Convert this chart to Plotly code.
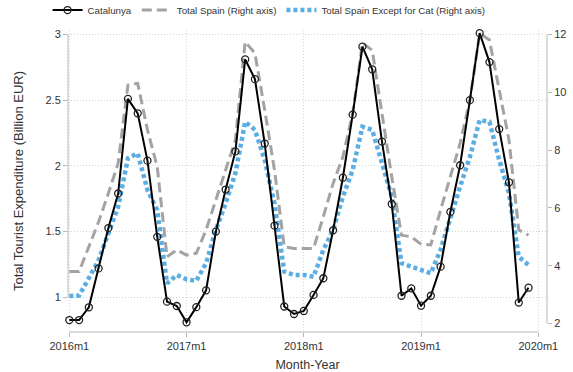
import plotly.graph_objects as go

# ---- data ----
month_labels = [f"{y}m{m}" for y in range(2016, 2020) for m in range(1, 13)]
tick_labels = ["2016m1", "2017m1", "2018m1", "2019m1", "2020m1"]

catalunya = [0.827, 0.827, 0.924, 1.22, 1.527, 1.79, 2.51, 2.40, 2.04, 1.46, 0.967, 0.934,
             0.81, 0.925, 1.053, 1.50, 1.82, 2.11, 2.81, 2.66, 2.17, 1.545, 0.93, 0.873,
             0.896, 1.018, 1.145, 1.51, 1.91, 2.39, 2.907, 2.735, 2.185, 1.71, 1.012, 1.068,
             0.936, 1.012, 1.233, 1.65, 2.005, 2.50, 3.01, 2.79, 2.28, 1.875, 0.96, 1.073]

total_spain = [3.80, 3.80, 4.66, 5.52, 6.51, 7.55, 10.25, 10.31, 8.70, 7.42, 4.31, 4.55,
               4.37, 4.43, 5.24, 6.28, 7.31, 8.35, 11.75, 11.35, 9.39, 7.31, 4.66, 4.60,
               4.60, 4.60, 5.70, 6.85, 7.77, 9.27, 11.70, 11.46, 9.27, 7.08, 5.06, 5.00,
               4.75, 4.72, 5.93, 7.08, 8.24, 9.73, 12.04, 11.81, 10.08, 8.35, 5.24, 5.06]

spain_ex_cat = [2.955, 2.97, 3.57, 4.20, 5.12, 6.04, 7.72, 7.89, 6.62, 5.93, 3.39, 3.68,
                3.53, 3.48, 4.09, 5.24, 6.16, 7.20, 8.98, 8.70, 7.66, 6.16, 3.80, 3.68,
                3.68, 3.62, 4.55, 5.24, 6.39, 7.31, 8.81, 8.70, 7.55, 6.39, 4.09, 3.97,
                3.82, 3.74, 4.55, 5.70, 6.74, 7.77, 9.04, 8.98, 7.66, 6.51, 4.31, 4.03]

left_ticks = [1, 1.5, 2, 2.5, 3]
right_ticks = [2, 4, 6, 8, 10, 12]

x = list(range(len(month_labels)))
tick_pos = [month_labels.index(t) if t in month_labels else len(month_labels) for t in tick_labels]

FONT = "Liberation Sans, Arial, sans-serif"
TXT = "#333333"
AXC = "#b8b8b8"
GRID = "#d4d4d4"

fig = go.Figure()

fig.add_trace(go.Scatter(
    x=x, y=total_spain, name="Total Spain (Right axis)", yaxis="y",
    mode="lines", line=dict(color="#a3a3a3", width=3, dash="10px,5px"),
    legendrank=2, hoverinfo="skip"))

fig.add_trace(go.Scatter(
    x=x, y=spain_ex_cat, name="Total Spain Except for Cat (Right axis)", yaxis="y",
    mode="lines", line=dict(color="#5aaee3", width=4.5, dash="4px,3px"),
    legendrank=3, hoverinfo="skip"))

fig.add_trace(go.Scatter(
    x=x, y=catalunya, name="Catalunya", yaxis="y2",
    mode="lines+markers", line=dict(color="#000000", width=2),
    marker=dict(symbol="circle-open", size=7, color="#222222", line=dict(width=1.3)),
    legendrank=1, cliponaxis=False, hoverinfo="skip"))

# Stata-style axis lines spanning only the tick range
fig.add_shape(type="line", xref="paper", yref="y2", x0=0, x1=0, y0=left_ticks[0], y1=left_ticks[-1],
              line=dict(color=AXC, width=1))
fig.add_shape(type="line", xref="paper", yref="y", x0=1, x1=1, y0=right_ticks[0], y1=right_ticks[-1],
              line=dict(color=AXC, width=1))
fig.add_shape(type="line", xref="x", yref="paper", x0=tick_pos[0], x1=tick_pos[-1], y0=0, y1=0,
              line=dict(color=AXC, width=1))

fig.update_layout(
    width=573, height=372,
    margin=dict(l=68, r=26, t=30, b=40, autoexpand=False),
    paper_bgcolor="white", plot_bgcolor="white",
    font=dict(family=FONT, color=TXT, size=11),
    showlegend=True,
    legend=dict(orientation="h", xref="container", x=0.083, xanchor="left",
                yref="container", y=0.973, yanchor="middle",
                font=dict(size=9.7, color=TXT), itemwidth=30,
                bgcolor="rgba(0,0,0,0)", tracegroupgap=0),
    xaxis=dict(range=[-0.133, 48.89], tickvals=tick_pos, ticktext=tick_labels,
               ticks="outside", ticklen=4, tickcolor=AXC, showline=False, zeroline=False,
               showgrid=True, gridcolor=GRID, griddash="1px,2px", gridwidth=1,
               tickfont=dict(size=11, color=TXT),
               title=dict(text="Month-Year", font=dict(size=12.5, color=TXT), standoff=9)),
    yaxis=dict(side="right", range=[1.709, 12.156], tickvals=right_ticks,
               ticks="outside", ticklen=4, tickcolor=AXC, showline=False, zeroline=False,
               showgrid=False, tickfont=dict(size=11, color=TXT)),
    yaxis2=dict(overlaying="y", side="left", range=[0.736, 3.034], tickvals=left_ticks,
                ticks="outside", ticklen=4, tickcolor=AXC, showline=False, zeroline=False,
                showgrid=True, gridcolor=GRID, griddash="1px,2px", gridwidth=1,
                tickfont=dict(size=11, color=TXT),
                title=dict(text="Total Tourist Expenditure (Billion EUR)",
                           font=dict(size=13, color=TXT), standoff=18)),
)

fig.write_html("out.html", config={"displayModeBar": False},
               post_script="document.body.style.margin='0';")
